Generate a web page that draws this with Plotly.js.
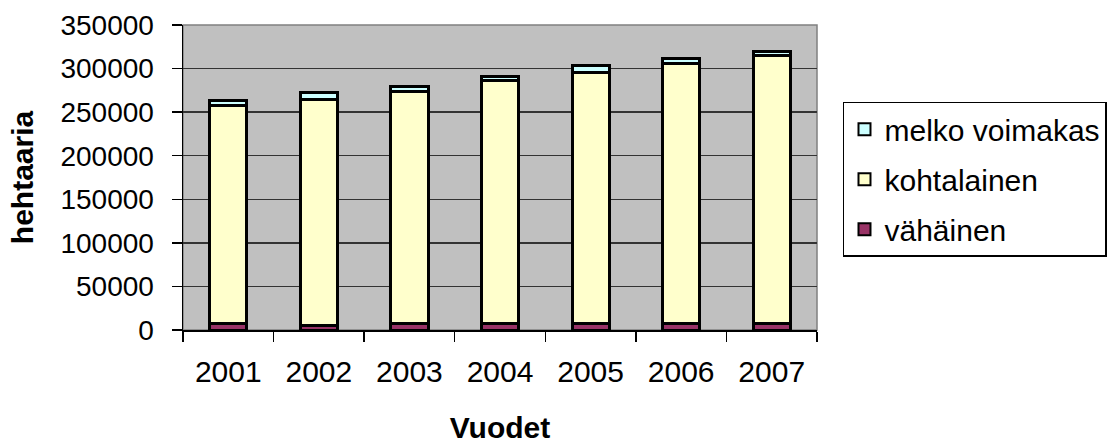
<!DOCTYPE html>
<html><head><meta charset="utf-8">
<script src="https://cdn.plot.ly/plotly-3.0.1.min.js"></script>
<style>body{margin:0;background:#fff}#c{width:1115px;height:444px}</style>
</head><body><div id="c"></div>
<script>
const years = ["2001","2002","2003","2004","2005","2006","2007"];
const vahainen = [7000, 5000, 7000, 7000, 7000, 7000, 7000];
const kohtalainen = [251000, 260000, 267000, 279000, 288500, 298500, 307500];
const melkoVoimakas = [5000, 8000, 5000, 5000, 8000, 6000, 5000];
const yTicks = [0, 50000, 100000, 150000, 200000, 250000, 300000, 350000];

const line = {color: "#000", width: 3};
const traces = [
  {type: "bar", name: "vähäinen", legendgroup: "a", legendrank: 3, x: years, y: vahainen, marker: {color: "#993366", line: line}},
  {type: "bar", name: "kohtalainen", legendgroup: "b", legendrank: 2, x: years, y: kohtalainen, marker: {color: "#ffffcc", line: line}},
  {type: "bar", name: "melko voimakas", legendgroup: "c", legendrank: 1, x: years, y: melkoVoimakas, marker: {color: "#ccffff", line: line}}
];
const font = {family: "Liberation Sans, Arial, sans-serif", color: "#000"};
const layout = {
  width: 1115, height: 444,
  margin: {l: 183, r: 298, t: 25, b: 114, autoexpand: false},
  barmode: "stack", bargap: 0.59,
  paper_bgcolor: "#fff", plot_bgcolor: "#c0c0c0",
  font: Object.assign({size: 28}, font),
  showlegend: true,
  legend: {x: 1.041, xanchor: "left", y: 0.748, yanchor: "top",
    bordercolor: "#000", borderwidth: 1.5, bgcolor: "#fff",
    traceorder: "grouped", font: {size: 30}, itemsizing: "constant",
    tracegroupgap: 8},
  xaxis: {type: "category", showline: true, linecolor: "#000", linewidth: 1.5,
    ticks: "outside", tickson: "boundaries", ticklen: 10, tickcolor: "#000", tickwidth: 1.5,
    showgrid: false, tickfont: {size: 30}, ticklabelstandoff: 14,
    title: {text: "Vuodet", font: {size: 30, weight: "bold"}, standoff: 31}},
  yaxis: {range: [0, 350000], tickvals: yTicks, ticktext: yTicks.map(String),
    showline: true, linecolor: "#000", linewidth: 1.5,
    ticks: "outside", ticklen: 10, tickcolor: "#000", tickwidth: 1.5,
    showgrid: true, gridcolor: "#333", gridwidth: 1.5, zeroline: false,
    tickfont: {size: 28}, ticklabelstandoff: 12,
    title: {text: "hehtaaria", font: {size: 30, weight: "bold"}, standoff: 18}},
  shapes: [{type: "rect", xref: "paper", yref: "paper", x0: 0, x1: 1, y0: 0, y1: 1,
    line: {color: "#808080", width: 1.5}, layer: "below"}]
};
Plotly.newPlot("c", traces, layout, {displayModeBar: false, staticPlot: true});
</script></body></html>
